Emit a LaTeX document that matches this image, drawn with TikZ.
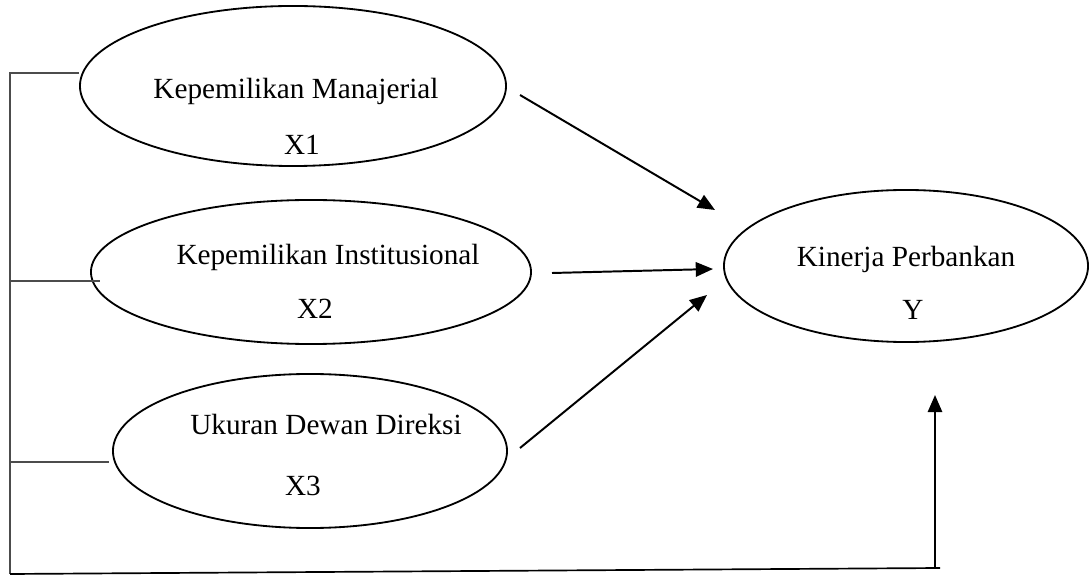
\documentclass[tikz,border=0pt]{standalone}
\usepackage{fontspec}
\setmainfont{Liberation Serif}
\usetikzlibrary{shapes.geometric,arrows.meta}
\tikzset{
  arr/.style={line width=1.4pt,-{Triangle[length=0.43cm,width=0.36cm]}}
}
\begin{document}
\begin{tikzpicture}[x=0.025cm,y=-0.025cm]
	\useasboundingbox (0,0) rectangle (1092,576);
	\begin{scope}[every node/.style={ellipse,draw,line width=1.3pt,inner sep=0pt}]
		\node[minimum width=10.65cm,minimum height=4cm] (X1) at (293,86) {};
		\node[minimum width=11cm,minimum height=3.6cm] (X2) at (311,272) {};
		\node[minimum width=9.85cm,minimum height=3.85cm] (X3) at (310,451) {};
		\node[minimum width=9.1cm,minimum height=3.8cm] (Y) at (906,266) {};
	\end{scope}
	
	\begin{scope}[every node/.style={anchor=base,font=\fontsize{20.8}{25}\selectfont}]
		\node (X1name) at (296,99) {Kepemilikan Manajerial};
		\node (X1code) at (302,155) {X1};
		\node (X2name) at (328,265) {Kepemilikan Institusional};
		\node (X2code) at (315,319) {X2};
		\node (X3name) at (326,435) {Ukuran Dewan Direksi};
		\node (X3code) at (303,495) {X3};
		\node (Yname) at (906,267) {Kinerja Perbankan};
		\node (Ycode) at (913,320) {Y};
	\end{scope}
	
	% left rail
	\coordinate (r1) at (10,73);
	\coordinate (r2) at (10,281);
	\coordinate (r3) at (10,462);
	\coordinate (r4) at (10,574);
	\coordinate (e2) at (100,281);
	\coordinate (e3) at (109,462);
	\coordinate (b1) at (940,568);
	\coordinate (b2) at (935,568);
	\coordinate (b3) at (935,395);
	\begin{scope}[line width=1pt,black!70]
		\draw (r1 -| X1.west) -- (r1) -- (r4);
		\draw (r2) -- (e2);
		\draw (r3) -- (e3);
	\end{scope}
	\draw[line width=1.2pt] (r4) -- (b1);
	
	% arrows into Y
	\coordinate (s1) at (520,95);
	\coordinate (t1) at (715,210);
	\coordinate (s2) at (552,273);
	\coordinate (t2) at (713,269);
	\coordinate (s3) at (520,448);
	\coordinate (t3) at (707,295);
	\begin{scope}
		\draw[arr] (s1) -- (t1);
		\draw[arr] (s2) -- (t2);
		\draw[arr] (s3) -- (t3);
		\draw[arr] (b2) -- (b3);
	\end{scope}
\end{tikzpicture}
\end{document}
